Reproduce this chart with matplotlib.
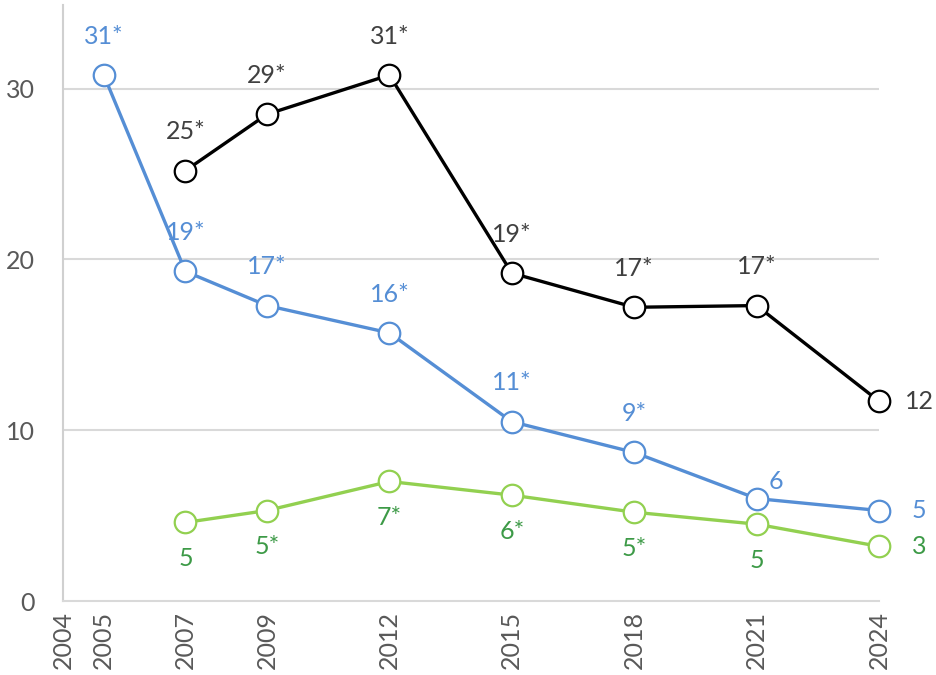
import matplotlib.pyplot as plt

plt.rcParams['font.family'] = ['Lato', 'DejaVu Sans']

# data
years_black = [2007, 2009, 2012, 2015, 2018, 2021, 2024]
vals_black = [25.2, 28.5, 30.8, 19.2, 17.2, 17.3, 11.7]
labels_black = ["25*", "29*", "31*", "19*", "17*", "17*", "12"]

years_blue = [2005, 2007, 2009, 2012, 2015, 2018, 2021, 2024]
vals_blue = [30.8, 19.3, 17.3, 15.7, 10.5, 8.7, 6.0, 5.3]
labels_blue = ["31*", "19*", "17*", "16*", "11*", "9*", "6", "5"]

years_green = [2007, 2009, 2012, 2015, 2018, 2021, 2024]
vals_green = [4.6, 5.3, 7.0, 6.2, 5.2, 4.5, 3.2]
labels_green = ["5", "5*", "7*", "6*", "5*", "5", "3"]

tick_years = [2004, 2005, 2007, 2009, 2012, 2015, 2018, 2021, 2024]
y_ticks = [0, 10, 20, 30]

BLUE = "#558ED5"
GREEN = "#92D050"
GREEN_TXT = "#3D9A47"
BLACK_TXT = "#404040"
FS = 18

fig = plt.figure(figsize=(9.36, 6.75), dpi=100)
ax = fig.add_axes([0.0673, 0.1096, 0.8718, 0.883])

for ys in y_ticks[1:]:
    ax.axhline(ys, color="#D9D9D9", lw=1.5, zorder=0)

def series(x, y, color, lab, lab_color, below=False, special=None):
    ax.plot(x, y, '-', color=color, lw=2.4, marker='o', ms=15.5,
            mfc='white', mec=color, mew=1.6, clip_on=False, zorder=3)
    for i in range(len(x)):
        if x[i] == 2024:
            off = (29, 0)
        elif special and x[i] in special:
            off = special[x[i]]
        elif below:
            off = (0, -26)
        else:
            off = (0, 28)
        ax.annotate(lab[i], (x[i], y[i]), xytext=off, textcoords='offset points',
                    ha='center', va='center', fontsize=FS, color=lab_color,
                    annotation_clip=False, zorder=4)

series(years_black, vals_black, "black", labels_black, BLACK_TXT)
# blue "6" at 2021 sits up and to the right of its marker
series(years_blue, vals_blue, BLUE, labels_blue, BLUE, special={2021: (14, 12)})
series(years_green, vals_green, GREEN, labels_green, GREEN_TXT, below=True)

ax.set_xlim(2004, 2024)
ax.set_ylim(0, 34.9)
ax.set_xticks(tick_years)
ax.set_xticklabels([str(t) for t in tick_years], rotation=90)
ax.set_yticks(y_ticks)
ax.tick_params(length=0, labelsize=FS, colors="#595959", pad=7)
ax.tick_params(axis='y', pad=20)

for s in ['top', 'right']:
    ax.spines[s].set_visible(False)
ax.spines['left'].set_color("#D0D0D0")
ax.spines['bottom'].set_color("#D9D9D9")
ax.spines['left'].set_linewidth(1.5)
ax.spines['bottom'].set_linewidth(1.5)

fig.savefig("out.png", dpi=100)
